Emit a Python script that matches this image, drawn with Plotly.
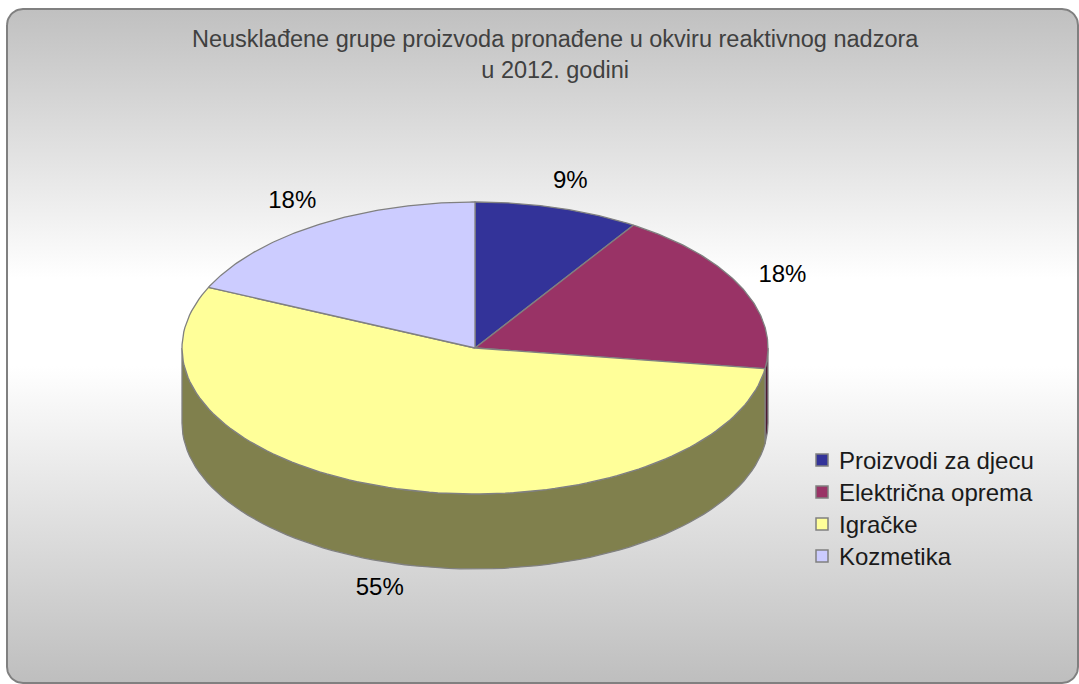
import numpy as np
import plotly.graph_objects as go

# ---------------- data ----------------
categories = ["Proizvodi za djecu", "Električna oprema", "Igračke", "Kozmetika"]
values = [1, 2, 6, 2]
colors = ["#333399", "#993366", "#ffff99", "#ccccff"]
side_colors = ["#1a1a4d", "#4d1a33", "#80804d", "#666680"]
title_lines = ["Neusklađene grupe proizvoda pronađene u okviru reaktivnog nadzora",
               "u 2012. godini"]

# ---------------- layout constants ----------------
W, H = 1079, 684
CX, CY, RX, RY, DEPTH = 475, 348, 293, 146, 75
LAB_RX, LAB_RY = 338, 173
FONT = "Liberation Sans, Arial, sans-serif"
EDGE = "#808080"

fig = go.Figure()

# chart box with vertical gradient and rounded corners
x0, y0, x1, y1, r = 7, 9, 1078, 683, 16
box_x, box_y = [], []
for (ccx, ccy, a0, a1) in [(x0 + r, y0 + r, np.pi, 1.5 * np.pi),
                           (x1 - r, y0 + r, 1.5 * np.pi, 2 * np.pi),
                           (x1 - r, y1 - r, 0, 0.5 * np.pi),
                           (x0 + r, y1 - r, 0.5 * np.pi, np.pi)]:
    a = np.linspace(a0, a1, 12)
    box_x += list(ccx + r * np.cos(a))
    box_y += list(ccy + r * np.sin(a))
box_x.append(box_x[0]); box_y.append(box_y[0])
fig.add_trace(go.Scatter(
    x=box_x, y=box_y, mode="lines", fill="toself",
    fillgradient=dict(type="vertical", start=y0, stop=y1,
                      colorscale=[[0, "#c0c0c0"], [0.40, "#ffffff"], [0.53, "#ffffff"], [1, "#bebebe"]]),
    line=dict(color="#808080", width=2), hoverinfo="skip", showlegend=False))

total = sum(values)
fracs = [v / total for v in values]
bounds = np.concatenate([[0], np.cumsum(fracs)]) * 2 * np.pi


def ell(t, dz=0.0):
    return CX + RX * np.sin(t), CY - RY * np.cos(t) + dz


# side walls (front half only)
for i in range(len(values)):
    a = max(bounds[i], 0.5 * np.pi)
    b = min(bounds[i + 1], 1.5 * np.pi)
    if a < b:
        ts = np.linspace(a, b, 80)
        xt, yt = ell(ts)
        xb, yb = ell(ts[::-1], DEPTH)
        xs = list(xt) + list(xb) + [xt[0]]
        ys = list(yt) + list(yb) + [yt[0]]
        fig.add_trace(go.Scatter(x=xs, y=ys, mode="lines", fill="toself",
                                 fillcolor=side_colors[i], line=dict(color=EDGE, width=1.3),
                                 hoverinfo="skip", showlegend=False))

# top faces
for i in range(len(values)):
    ts = np.linspace(bounds[i], bounds[i + 1], 120)
    xa, ya = ell(ts)
    xs = [CX] + list(xa) + [CX]
    ys = [CY] + list(ya) + [CY]
    fig.add_trace(go.Scatter(x=xs, y=ys, mode="lines", fill="toself",
                             fillcolor=colors[i], line=dict(color=EDGE, width=1.3),
                             hoverinfo="skip", showlegend=False, name=categories[i]))

# data labels
lx, ly, lt = [], [], []
for i in range(len(values)):
    m = 0.5 * (bounds[i] + bounds[i + 1])
    x = CX + LAB_RX * np.sin(m)
    y = CY - LAB_RY * np.cos(m) + (DEPTH if np.cos(m) < 0 else 0)
    lx.append(x); ly.append(y); lt.append(f"{round(fracs[i] * 100)}%")
fig.add_trace(go.Scatter(x=lx, y=ly, mode="text", text=lt, textposition="middle center",
                         textfont=dict(family=FONT, size=24, color="#000000"),
                         hoverinfo="skip", showlegend=False))

# legend
LEG_X, LEG_Y0, LEG_DY = 822, 460, 32
leg_y = [LEG_Y0 + k * LEG_DY for k in range(len(categories))]
fig.add_trace(go.Scatter(x=[LEG_X] * len(categories), y=leg_y, mode="markers",
                         marker=dict(symbol="square", size=12, color=colors,
                                     line=dict(color=EDGE, width=1.5)),
                         hoverinfo="skip", showlegend=False))
annotations = []
for k, c in enumerate(categories):
    annotations.append(dict(x=837, y=leg_y[k], xref="x", yref="y", text=c, showarrow=False,
                            xanchor="left", yanchor="middle",
                            font=dict(family=FONT, size=24, color="#1a1a1a")))

annotations.append(dict(x=555, y=54, xref="x", yref="y", text="<br>".join(title_lines),
                        showarrow=False, xanchor="center", yanchor="middle",
                        font=dict(family=FONT, size=23.5, color="#404040")))

fig.update_layout(
    width=W, height=H, margin=dict(l=0, r=0, t=0, b=0),
    paper_bgcolor="#ffffff", plot_bgcolor="#ffffff",
    xaxis=dict(range=[0, W], visible=False, fixedrange=True),
    yaxis=dict(range=[H, 0], visible=False, fixedrange=True),
    annotations=annotations, hovermode=False, showlegend=False,
)

fig.write_html("out.html", config={"displayModeBar": False},
               post_script="document.body.style.margin='0px';document.body.style.overflow='hidden';")
